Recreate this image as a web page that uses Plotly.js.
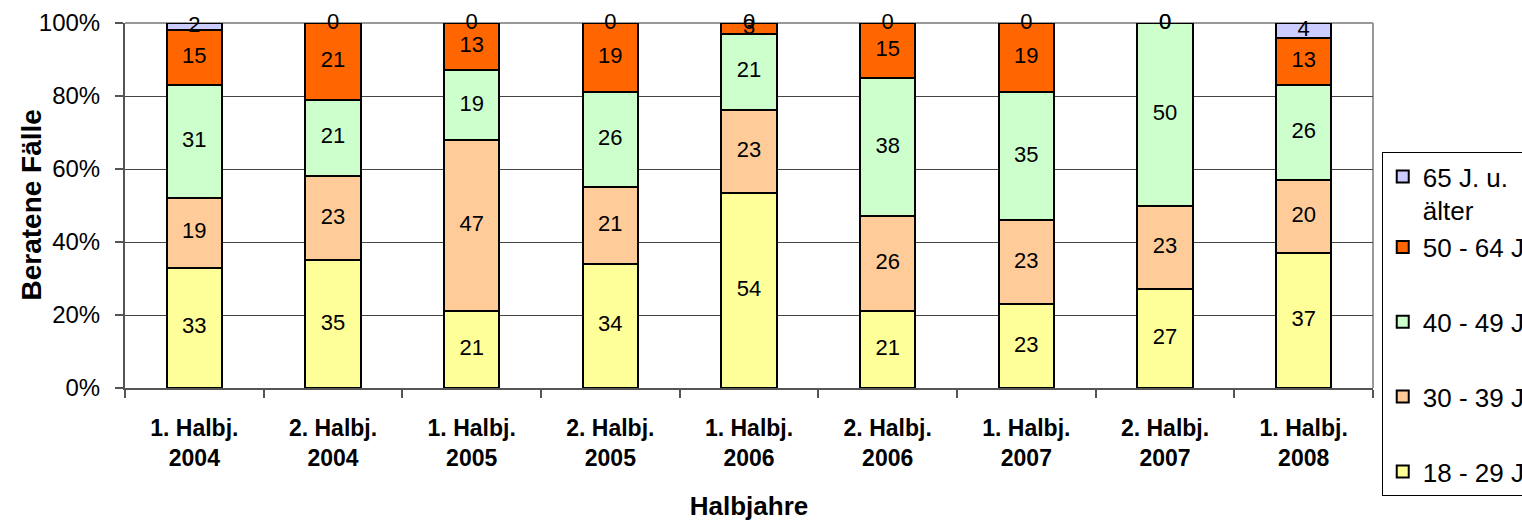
<!DOCTYPE html>
<html>
<head>
<meta charset="utf-8">
<script src="https://cdn.plot.ly/plotly-3.0.1.min.js"></script>
<style>html,body{margin:0;padding:0;background:#fff;}#chart{width:1522px;height:521px;}</style>
</head>
<body>
<div id="chart"></div>
<script>
const periods = ['1. Halbj.<br>2004','2. Halbj.<br>2004','1. Halbj.<br>2005','2. Halbj.<br>2005','1. Halbj.<br>2006','2. Halbj.<br>2006','1. Halbj.<br>2007','2. Halbj.<br>2007','1. Halbj.<br>2008'];
const seriesNames = ['18 - 29 J.','30 - 39 J.','40 - 49 J.','50 - 64 J.','65 J. u.<br>älter'];
const age18to29 = [33, 35, 21, 34, 54, 21, 23, 27, 37];
const age30to39 = [19, 23, 47, 21, 23, 26, 23, 23, 20];
const age40to49 = [31, 21, 19, 26, 21, 38, 35, 50, 26];
const age50to64 = [15, 21, 13, 19, 3, 15, 19, 0, 13];
const age65plus = [2, 0, 0, 0, 0, 0, 0, 0, 4];
const colors = ['#FFFF99','#FFCC99','#CCFFCC','#FF6600','#CCCCFF'];
const allSeries = [age18to29, age30to39, age40to49, age50to64, age65plus];
const groups = ['g0','g1','g2','g3','g3'];

const font = 'Liberation Sans, Arial, sans-serif';
const traces = [];
allSeries.forEach((vals, i) => {
  traces.push({
    type: 'bar', x: periods, y: vals, name: seriesNames[i],
    marker: {color: colors[i], line: {color: '#000', width: 2}},
    legendgroup: groups[i], legendrank: 10 - i, hoverinfo: 'y+name', textposition: 'none'
  });
});
// value labels, placed at segment centres computed from the data
const totals = periods.map((_, j) => allSeries.reduce((s, a) => s + a[j], 0));
const lx = [], ly = [], lt = [];
const cum = periods.map(() => 0);
allSeries.forEach(vals => {
  vals.forEach((v, j) => {
    lx.push(periods[j]);
    ly.push((cum[j] + v / 2) / totals[j] * 100);
    lt.push(String(v));
    cum[j] += v;
  });
});
traces.push({
  type: 'scatter', mode: 'text', x: lx, y: ly, text: lt,
  textfont: {family: font, size: 22, color: '#000'},
  showlegend: false, hoverinfo: 'skip', cliponaxis: false
});

const layout = {
  width: 1522, height: 521,
  margin: {l: 125, r: 149, t: 23, b: 133, autoexpand: false},
  paper_bgcolor: '#fff', plot_bgcolor: '#fff',
  barmode: 'stack', barnorm: 'percent', bargap: 0.6,
  font: {family: font, color: '#000'},
  xaxis: {
    type: 'category', tickson: 'boundaries', ticks: 'outside', ticklen: 8, tickcolor: '#555', tickwidth: 2,
    showline: true, linecolor: '#555', linewidth: 2, showgrid: false,
    tickfont: {family: font, size: 23, weight: 'bold'}, ticklabelstandoff: 18,
    title: {text: 'Halbjahre', font: {family: font, size: 26, weight: 'bold'}, standoff: 30}
  },
  yaxis: {
    range: [0, 100], dtick: 20, ticksuffix: '%', ticks: 'outside', ticklen: 8, tickcolor: '#555', tickwidth: 2,
    showline: true, linecolor: '#555', linewidth: 2, gridcolor: '#444', gridwidth: 1,
    tickfont: {family: font, size: 24}, ticklabelstandoff: 10, zeroline: false
  },
  annotations: [{
    text: 'Beratene Fälle', xref: 'paper', yref: 'paper', x: 0, y: 0.5, xshift: -94,
    xanchor: 'center', yanchor: 'middle', textangle: -90, showarrow: false,
    font: {family: font, size: 28, weight: 'bold', color: '#000'}
  }],
  shapes: [
    {type: 'line', xref: 'paper', yref: 'paper', x0: 0, x1: 1, y0: 1, y1: 1, line: {color: '#999', width: 2}, layer: 'below'},
    {type: 'line', xref: 'paper', yref: 'paper', x0: 1, x1: 1, y0: 0, y1: 1, line: {color: '#999', width: 2}, layer: 'below'}
  ],
  legend: {
    x: 1.007, y: 0.6466, xanchor: 'left', yanchor: 'top',
    traceorder: 'grouped', tracegroupgap: 38, valign: 'top',
    bordercolor: '#000', borderwidth: 1, bgcolor: '#fff',
    font: {family: font, size: 26, color: '#000'}
  },
  showlegend: true
};
Plotly.newPlot('chart', traces, layout, {displayModeBar: false, staticPlot: true});
</script>
</body>
</html>
